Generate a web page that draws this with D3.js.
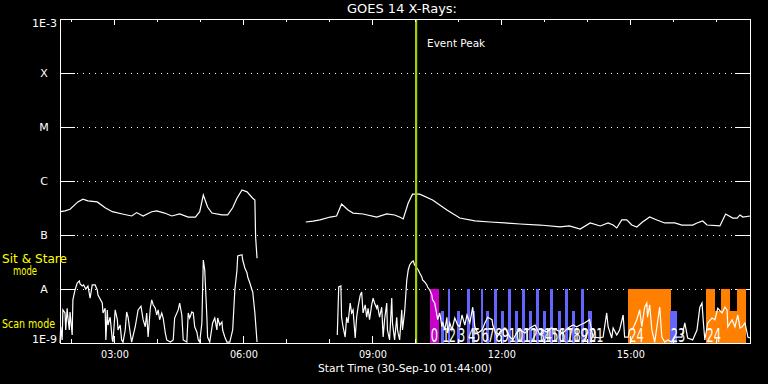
<!DOCTYPE html>
<html><head><meta charset="utf-8">
<script src="https://cdn.jsdelivr.net/npm/d3@7"></script>
<style>html,body{margin:0;padding:0;background:#000;}svg{display:block;}</style>
</head><body>
<svg id="chart" width="768" height="384"></svg>
<script>
// ---------------- data ----------------
const chartTitle = "GOES 14 X-Rays:";
const xAxisTitle = "Start Time (30-Sep-10 01:44:00)";
const timeDomain = ["01:44", "17:47"];
const minorTickTimes = ["02:00","03:00","04:00","05:00","06:00","07:00","08:00","09:00","10:00","11:00","12:00","13:00","14:00","15:00","16:00","17:00"];
const majorTickTimes = ["03:00","06:00","09:00","12:00","15:00"];
const yTickValues = [1e-9, 1e-8, 1e-7, 1e-6, 1e-5, 1e-4, 1e-3];
const yTickLabels = ["1E-9", "A", "B", "C", "M", "X", "1E-3"];
const modeTitles = ["Sit & Stare", "mode", "Scan mode"];
const eventPeakTime = "10:01";
const eventPeakLabel = "Event Peak";

// 1-8 A channel (null = data gap)
const longTimes = [
 "01:45","01:51","01:58","02:09","02:16","02:23","02:36","02:47","02:57","03:11",
 "03:24","03:31","03:40","03:52","03:59","04:10","04:20","04:31","04:43","04:53",
 "04:59","05:04","05:10","05:16","05:30","05:38","05:45","05:51","05:58","06:05",
 "06:13","06:16","06:17","06:19","06:22",
 "07:27","07:37","07:47","08:01","08:10","08:17","08:26","08:33","08:47","09:06",
 "09:20","09:31","09:38","09:43","09:50","09:56","10:06","10:24","10:44","11:02",
 "11:23","11:44","12:05","12:26","12:54","13:22","13:35","13:50","14:04","14:18",
 "14:29","14:36","14:41","14:48","14:55","15:02","15:09","15:17","15:27","15:37",
 "15:48","16:02","16:12","16:27","16:33","16:41","16:47","17:05","17:09","17:13",
 "17:23","17:29","17:33","17:37","17:47"];
const longFlux = [
 2.7e-7,2.8e-7,3.0e-7,4.1e-7,4.6e-7,4.3e-7,4.1e-7,3.2e-7,2.7e-7,2.45e-7,
 2.25e-7,2.6e-7,2.25e-7,2.7e-7,2.8e-7,2.55e-7,2.25e-7,2.45e-7,2.15e-7,2.15e-7,
 2.7e-7,5.5e-7,3.3e-7,2.55e-7,2.35e-7,2.35e-7,3.2e-7,4.8e-7,6.8e-7,6.3e-7,
 4.8e-7,4.45e-7,9.2e-8,3.7e-8,null,
 1.74e-7,1.8e-7,1.9e-7,2.15e-7,2.25e-7,3.75e-7,2.9e-7,2.55e-7,2.45e-7,2.15e-7,
 2.45e-7,2.35e-7,2.15e-7,1.98e-7,3.9e-7,5.7e-7,5.7e-7,4.45e-7,2.9e-7,2.06e-7,
 1.82e-7,1.74e-7,1.67e-7,1.6e-7,1.53e-7,1.41e-7,1.47e-7,1.29e-7,1.67e-7,1.47e-7,
 1.67e-7,1.53e-7,1.35e-7,1.9e-7,1.9e-7,1.53e-7,1.41e-7,1.74e-7,2.15e-7,1.9e-7,
 1.67e-7,1.67e-7,1.53e-7,1.53e-7,1.67e-7,1.82e-7,1.53e-7,1.47e-7,1.9e-7,2.45e-7,
 2.06e-7,2.06e-7,2.35e-7,2.15e-7,2.25e-7];

// 0.5-4 A channel (null = data gap)
const shortTimes = [
 "01:44","01:45","01:47","01:48","01:51","01:52","01:54","01:55","01:57","01:58",
 "02:01","02:02","02:04","02:05","02:08","02:11","02:12","02:15","02:17","02:20",
 "02:23","02:26","02:29","02:33","02:36","02:37","02:43","02:44","02:47","02:48",
 "02:50","02:51","02:54","02:57","02:58","03:01","03:04","03:05","03:08","03:10",
 "03:12","03:15","03:17","03:19","03:22","03:24","03:29","03:33","03:37","03:40",
 "03:43","03:45","03:47","03:50","03:52","03:54","03:57","03:59","04:01","04:03",
 "04:06","04:08","04:11","04:13","04:18","04:22","04:24","04:29","04:31","04:34",
 "04:36","04:41","04:43","04:45","04:48","04:50","04:52","04:55","04:57","04:59",
 "05:02","05:04","05:06","05:09","05:10","05:13","05:17","05:20","05:23","05:24",
 "05:27","05:30","05:31","05:34","05:37","05:41","05:45","05:48","05:51","05:52",
 "05:58","05:59","06:02","06:05","06:06","06:09","06:12","06:13","06:16","06:19",
 "06:22",
 "08:11","08:13","08:16","08:17","08:19","08:22","08:24","08:26","08:29","08:31",
 "08:33","08:36","08:38","08:40","08:43","08:45","08:47","08:50","08:52","08:54",
 "08:56","08:59","09:01","09:03","09:06","09:07","09:10","09:13","09:15","09:17",
 "09:20","09:21","09:24","09:27","09:28","09:31","09:34","09:35","09:38","09:41",
 "09:42","09:45","09:48","09:50","09:52","09:55","09:57","09:59","10:02","10:04",
 "10:06","10:09","10:10","10:13","10:16","10:17","10:20","10:23","10:24","10:27",
 "10:30","10:31","10:34","10:37","10:38","10:41","10:44","10:45","10:48",
 "10:51","10:55","10:59","11:02","11:05","11:09","11:12","11:16","11:20","11:23",
 "11:27","11:33","11:37","11:41","11:47","11:48","11:54","11:58","12:05","12:12",
 "12:16","12:22","12:26","12:33","12:40","12:47","12:54","12:58","13:03","13:10",
 "13:17","13:26","13:33","13:40","13:45","13:50","13:56","14:03","14:08","14:17",
 "14:22","14:27","14:29","14:34","14:36","14:41","14:45","14:50","14:52","14:57",
 "14:59","15:04","15:09","15:13","15:16","15:20","15:23","15:24","15:27","15:30",
 "15:34","15:38","15:41","15:44","15:48","15:52","15:58","16:02","16:06","16:12",
 "16:16","16:20","16:27","16:33","16:37","16:40","16:42","16:44","16:48","16:54",
 "16:58","17:02","17:08","17:12","17:15","17:16","17:22","17:26","17:30","17:33",
 "17:36","17:40","17:43","17:44","17:47"];
const shortFlux = [
 1.0e-9,2.0e-9,1.14e-9,4.1e-9,3.6e-9,1.74e-9,4.4e-9,3.0e-9,1.74e-9,3.75e-9,
 1.41e-9,6.3e-9,8.4e-9,9.6e-9,1.29e-8,1.41e-8,1.24e-8,1.14e-8,1.19e-8,1.0e-8,
 1.14e-8,6.8e-9,1.19e-8,1.19e-8,9.6e-9,7.7e-9,5.5e-9,3.6e-9,4.4e-9,1.14e-9,
 4.1e-9,2.15e-9,3.0e-9,1.14e-9,1.04e-9,4.1e-9,2.7e-9,1.74e-9,2.15e-9,1.14e-9,
 1.04e-9,1.74e-9,3.75e-9,3.0e-9,1.53e-9,1.04e-9,2.0e-9,4.1e-9,4.8e-9,2.7e-9,
 2.0e-9,3.6e-9,1.29e-9,4.4e-9,6.3e-9,5.1e-9,4.4e-9,3.3e-9,4.1e-9,2.7e-9,
 3.6e-9,2.9e-9,1.53e-9,1.14e-9,1.04e-9,1.14e-9,2.9e-9,4.1e-9,5.5e-9,3.3e-9,
 1.14e-9,1.04e-9,3.6e-9,2.9e-9,3.75e-9,3.6e-9,2.0e-9,1.6e-9,1.14e-9,1.04e-9,
 2.35e-9,3.44e-8,2.25e-8,3.0e-9,1.29e-9,1.04e-9,2.35e-9,2.9e-9,1.74e-9,2.9e-9,
 2.15e-9,2.45e-9,1.74e-9,1.29e-9,1.04e-9,1.04e-9,1.74e-9,9.6e-9,2.25e-8,4.1e-8,
 4.3e-8,3.44e-8,2.45e-8,1.98e-8,1.67e-8,1.29e-8,9.6e-9,8.8e-9,3.6e-9,1.04e-9,
 null,
 1.41e-9,1.09e-8,1.14e-8,3.0e-9,2.0e-9,1.29e-9,3.0e-9,2.35e-9,5.5e-9,3.6e-9,
 4.1e-9,1.24e-9,3.0e-9,4.6e-9,7.7e-9,8.8e-9,3.6e-9,5.1e-9,3.0e-9,4.4e-9,
 2.7e-9,5.1e-9,6.8e-9,5.5e-9,4.4e-9,5.1e-9,3.0e-9,4.6e-9,1.29e-9,2.7e-9,
 5.5e-9,1.74e-9,1.14e-9,6.8e-9,2.35e-9,1.14e-9,3.0e-9,1.74e-9,1.14e-9,4.1e-9,
 1.74e-9,3.75e-9,1.47e-8,2.25e-8,2.78e-8,3.16e-8,3.3e-8,2.78e-8,2.45e-8,2.25e-8,
 1.98e-8,1.67e-8,1.47e-8,1.35e-8,1.19e-8,1.09e-8,9.6e-9,7.7e-9,6.3e-9,5.5e-9,
 3.3e-9,2.7e-9,3.6e-9,2.0e-9,2.45e-9,1.74e-9,3.0e-9,1.53e-9,2.35e-9,
 1.74e-9,2.9e-9,2.15e-9,2.0e-9,3.3e-9,2.15e-9,3.3e-9,2.35e-9,4.6e-9,2.0e-9,
 1.53e-9,1.74e-9,2.35e-9,3.0e-9,2.7e-9,2.15e-9,1.29e-9,1.6e-9,1.9e-9,1.29e-9,
 1.14e-9,1.6e-9,1.74e-9,1.53e-9,1.9e-9,2.15e-9,1.41e-9,1.74e-9,1.6e-9,1.9e-9,
 1.74e-9,1.53e-9,1.9e-9,2.15e-9,2.0e-9,2.15e-9,2.35e-9,2.7e-9,1.29e-9,1.24e-9,
 1.29e-9,3.6e-9,2.0e-9,1.24e-9,1.9e-9,1.41e-9,1.74e-9,3.3e-9,1.29e-9,1.29e-9,
 1.74e-9,1.9e-9,2.7e-9,4.1e-9,2.0e-9,4.6e-9,5.5e-9,3.0e-9,5.1e-9,1.74e-9,
 1.04e-9,2.45e-9,4.6e-9,1.29e-9,1.04e-9,1.14e-9,1.04e-9,1.29e-9,1.29e-9,1.29e-9,
 2.35e-9,1.24e-9,1.14e-9,1.74e-9,4.6e-9,5.5e-9,2.35e-9,1.14e-9,2.35e-9,2.9e-9,
 2.7e-9,4.4e-9,3.6e-9,4.6e-9,4.1e-9,2.0e-9,2.7e-9,2.0e-9,3.3e-9,1.9e-9,
 2.0e-9,2.35e-9,1.53e-9,1.29e-9,1.24e-9];

// observing-mode bars: level 1 = sit & stare, 0.6 = scan
const modeStart = ["10:20","10:36","10:45","10:58","11:12","11:19","11:31","11:39","11:50","11:59",
 "12:09","12:19","12:29","12:39","12:49","12:58","13:08","13:19","13:29","13:39",
 "13:51","14:01","14:57","15:55","16:45","16:58","17:06","17:19","17:29"];
const modeEnd = ["10:33","10:40","10:49","11:02","11:16","11:23","11:35","11:43","11:54","12:03",
 "12:13","12:23","12:33","12:43","12:53","13:02","13:12","13:23","13:33","13:43",
 "13:55","14:06","15:57","16:05","16:58","17:06","17:19","17:29","17:41"];
const modeLevel = [1,0.6,1,0.6,1,0.6,1,0.6,1,0.6,
 1,0.6,1,0.6,1,0.6,1,0.6,1,0.6,
 1,0.6,1,0.6,1,0.6,1,0.6,1];
const modeKind = ["flare","seq","seq","seq","seq","seq","seq","seq","seq","seq",
 "seq","seq","seq","seq","seq","seq","seq","seq","seq","seq",
 "seq","seq","patrol","seq","patrol","patrol","patrol","patrol","patrol"];
const modeLabel = ["0","1","2","3","4","5","6","7","8","9",
 "10","11","12","13","14","15","16","17","18","19",
 "20","21","24","23","24","","","",""];

// ---------------- drawing ----------------
const parseT = s => { const [h, m] = s.split(":").map(Number); return new Date(Date.UTC(2010, 8, 30, h, m)); };
const L = 60, R = 750, T = 19, B = 343;
const FONT = "'DejaVu Sans', sans-serif";
const svg = d3.select("#chart");
svg.append("rect").attr("width", 768).attr("height", 384).attr("fill", "#000");

const x = d3.scaleUtc().domain(timeDomain.map(parseT)).range([L, R]);
const y = d3.scaleLog().domain([yTickValues[0], yTickValues[yTickValues.length - 1]]).range([B, T]).clamp(true);
const modeY = d3.scaleLinear().domain([0, 1]).range([B, y(1e-8)]);
const modeColor = d3.scaleOrdinal().domain(["flare", "seq", "patrol"]).range(["#cc00cc", "#6464ff", "#ff8000"]);

// grid lines (solid stubs at both ends, dotted between)
const grid = svg.append("g").attr("shape-rendering", "crispEdges").attr("stroke", "#fff");
const gv = yTickValues.slice(1, -1);
grid.selectAll("line.l").data(gv).join("line").attr("x1", L).attr("x2", L + 15)
  .attr("y1", d => Math.round(y(d)) + 0.5).attr("y2", d => Math.round(y(d)) + 0.5);
grid.selectAll("line.r").data(gv).join("line").attr("x1", R - 15).attr("x2", R)
  .attr("y1", d => Math.round(y(d)) + 0.5).attr("y2", d => Math.round(y(d)) + 0.5);
grid.selectAll("line.d").data(gv).join("line").attr("x1", L + 17).attr("x2", R - 16)
  .attr("y1", d => Math.round(y(d)) + 0.5).attr("y2", d => Math.round(y(d)) + 0.5)
  .attr("stroke-dasharray", "1 5");

// mode bars
const bars = svg.append("g").attr("shape-rendering", "crispEdges");
bars.selectAll("rect").data(modeStart.map((s, i) => i)).join("rect")
  .attr("x", i => x(parseT(modeStart[i])))
  .attr("width", i => x(parseT(modeEnd[i])) - x(parseT(modeStart[i])))
  .attr("y", i => modeY(modeLevel[i]))
  .attr("height", i => B - modeY(modeLevel[i]))
  .attr("fill", i => modeColor(modeKind[i]));

// curves
const line = d3.line().defined(d => d[1] != null).x(d => x(parseT(d[0]))).y(d => y(d[1]));
svg.append("path").datum(longTimes.map((t, i) => [t, longFlux[i]]))
  .attr("d", line).attr("fill", "none").attr("stroke", "#fff").attr("stroke-width", 1.2);
svg.append("path").datum(shortTimes.map((t, i) => [t, shortFlux[i]]))
  .attr("d", line).attr("fill", "none").attr("stroke", "#fff").attr("stroke-width", 1.2);

// bar labels
const lab = svg.append("g").attr("fill", "#fff").attr("font-family", FONT).attr("font-size", 19);
modeLabel.forEach((s, i) => {
  if (!s) return;
  lab.append("text").attr("transform", `translate(${x(parseT(modeStart[i])) + 1},342) scale(0.6,1)`).text(s);
});

// event peak
const xp = x(parseT(eventPeakTime));
svg.append("line").attr("x1", xp).attr("x2", xp).attr("y1", T).attr("y2", B)
  .attr("stroke", "#a0d000").attr("stroke-width", 2.2);
svg.append("text").attr("x", xp + 11).attr("y", 47).attr("fill", "#fff")
  .attr("font-family", FONT).attr("font-size", 11).attr("textLength", 58).attr("lengthAdjust", "spacingAndGlyphs")
  .text(eventPeakLabel);

// frame
svg.append("rect").attr("x", L + 0.5).attr("y", T + 0.5).attr("width", R - L).attr("height", B - T)
  .attr("fill", "none").attr("stroke", "#fff").attr("shape-rendering", "crispEdges");

// time axes
function styleAxis(g) {
  g.select(".domain").remove();
  g.selectAll("line").attr("stroke", "#fff");
  g.attr("shape-rendering", "crispEdges");
}
svg.append("g").attr("transform", `translate(0,${T})`)
  .call(d3.axisTop(x).tickValues(minorTickTimes.map(parseT)).tickSize(-3).tickFormat(""))
  .call(styleAxis);
svg.append("g").attr("transform", `translate(0,${T})`)
  .call(d3.axisTop(x).tickValues(majorTickTimes.map(parseT)).tickSize(-6).tickFormat(""))
  .call(styleAxis);
svg.append("g").attr("transform", `translate(0,${B})`)
  .call(d3.axisBottom(x).tickValues(minorTickTimes.map(parseT)).tickSize(-4).tickFormat(""))
  .call(styleAxis);
const xb = svg.append("g").attr("transform", `translate(0,${B})`)
  .call(d3.axisBottom(x).tickValues(majorTickTimes.map(parseT)).tickSize(-7).tickFormat(d3.utcFormat("%H:%M")))
  .call(styleAxis);
xb.attr("font-family", FONT).attr("font-size", 11);
xb.selectAll("text").attr("fill", "#fff").attr("y", 15).attr("dy", null)
  .attr("textLength", 28).attr("lengthAdjust", "spacingAndGlyphs");

// y labels
const yl = svg.append("g").attr("fill", "#fff").attr("font-family", FONT).attr("font-size", 11);
yTickValues.forEach((v, i) => {
  const t = yTickLabels[i];
  const yy = y(v);
  if (i === 0) yl.append("text").attr("x", 57).attr("y", yy).attr("text-anchor", "end").attr("textLength", 25).attr("lengthAdjust", "spacingAndGlyphs").text(t);
  else if (i === yTickValues.length - 1) yl.append("text").attr("x", 57).attr("y", yy + 8).attr("text-anchor", "end").attr("textLength", 25).attr("lengthAdjust", "spacingAndGlyphs").text(t);
  else yl.append("text").attr("x", 44).attr("y", yy + 4).attr("text-anchor", "middle").text(t);
});

// mode titles (yellow)
const mt = svg.append("g").attr("fill", "#ffff00").attr("font-family", FONT).attr("font-size", 11.5);
mt.append("text").attr("x", 2).attr("y", 263).attr("textLength", 65).attr("lengthAdjust", "spacingAndGlyphs").text(modeTitles[0]);
mt.append("text").attr("x", 13).attr("y", 275).attr("textLength", 24).attr("lengthAdjust", "spacingAndGlyphs").text(modeTitles[1]);
mt.append("text").attr("x", 2).attr("y", 328).attr("textLength", 53).attr("lengthAdjust", "spacingAndGlyphs").text(modeTitles[2]);

// titles
svg.append("text").attr("x", 347).attr("y", 13).attr("fill", "#fff").attr("font-family", FONT).attr("font-size", 11.5)
  .attr("textLength", 110).attr("lengthAdjust", "spacingAndGlyphs").text(chartTitle);
svg.append("text").attr("x", 318).attr("y", 372).attr("fill", "#fff").attr("font-family", FONT).attr("font-size", 11)
  .attr("textLength", 174).attr("lengthAdjust", "spacingAndGlyphs").text(xAxisTitle);
</script>
</body></html>
